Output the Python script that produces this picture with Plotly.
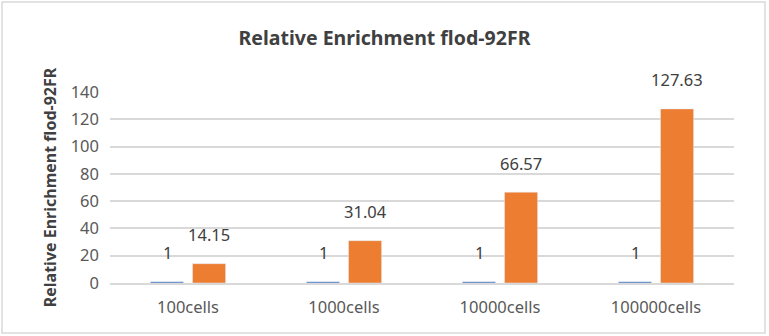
import plotly.graph_objects as go

categories = ["100cells", "1000cells", "10000cells", "100000cells"]
series_a = [1, 1, 1, 1]
series_b = [14.15, 31.04, 66.57, 127.63]
y_ticks = [0, 20, 40, 60, 80, 100, 120, 140]

BLUE = "#4472C4"
ORANGE = "#ED7D31"
TXT = "#595959"
FONT = "Noto Sans"

fig = go.Figure()
fig.add_trace(go.Bar(x=categories, y=series_a, marker_color=BLUE, name="A"))
fig.add_trace(go.Bar(x=categories, y=series_b, marker_color=ORANGE, name="B"))

annotations = []
for cat, a, b in zip(categories, series_a, series_b):
    for val, shift in ((a, -21), (b, 21)):
        annotations.append(dict(
            x=cat, y=val, xref="x", yref="y", text=f"{val:g}",
            showarrow=False, xshift=shift, yshift=29, yanchor="middle",
            font=dict(family=FONT, size=16.5, color="#404040"),
        ))

L, R, T, B = 110, 35, 92, 53
W, H = 769, 336
pw, ph = W - L - R, H - T - B
shapes = [dict(
    type="rect", xref="paper", yref="paper",
    x0=(2 - L) / pw, x1=(765 - L) / pw,
    y0=(H - B - 333) / ph, y1=(H - B - 2) / ph,
    line=dict(color="#D9D9D9", width=1.5), fillcolor="rgba(0,0,0,0)", layer="below",
)]

fig.update_layout(
    width=W, height=H,
    margin=dict(l=L, r=R, t=T, b=B),
    paper_bgcolor="white", plot_bgcolor="white",
    showlegend=False,
    barmode="group", bargap=0.46, bargroupgap=0.214,
    title=dict(text="<b>Relative Enrichment flod-92FR</b>", x=0.5, xanchor="center",
               y=1 - 38 / H, yanchor="middle",
               font=dict(family=FONT, size=19.5, color="#404040")),
    annotations=annotations,
    shapes=shapes,
    font=dict(family=FONT, color=TXT),
)
fig.update_yaxes(
    range=[0, 140], tickvals=y_ticks, showgrid=True, gridcolor="#D9D9D9", gridwidth=1.5,
    zeroline=False, showline=False, ticks="", ticklabelstandoff=10,
    tickfont=dict(family=FONT, size=16.5, color=TXT),
    title=dict(text="<b>Relative Enrichment flod-92FR</b>", standoff=10,
               font=dict(family=FONT, size=16, color="#404040")),
)
fig.update_xaxes(
    showline=True, linecolor="#D9D9D9", linewidth=1.5, ticks="", ticklabelstandoff=8,
    tickfont=dict(family=FONT, size=16.5, color=TXT),
)

fig.write_html("out.html")
